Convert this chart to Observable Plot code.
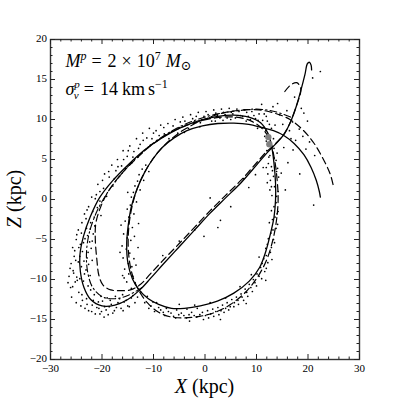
<!DOCTYPE html>
<html><head><meta charset="utf-8">
<script src="https://cdn.jsdelivr.net/npm/d3@7"></script>
<script src="https://cdn.jsdelivr.net/npm/@observablehq/plot@0.6"></script>
<style>body{margin:0;background:#fff}</style>
</head><body><div id="chart"></div>
<script>
// ---- data (X, Z in kpc) ----
const solidOrbit = [[20.7,16.2],[20.6,16.8],[20.3,17.15],[19.9,17.0],[19.4,15.6],[18.6,13.6],[17.7,11.6],[16.6,9.7],[15.3,8.1],[13.5,6.8],[12,5.8],[10,4.3],[7,2.1],[4,0.2],[1,-1.7],[-2,-3.8],[-5,-5.9],[-8,-8.0],[-10.5,-9.8],[-12.5,-11.2],[-15,-12.5],[-17.5,-13.2],[-20,-13.3],[-22.2,-12.5],[-23.5,-11],[-24.2,-9],[-24.3,-7],[-23.6,-4.6],[-22.3,-2.2],[-20.5,0.2],[-18,2.3],[-14.5,4.6],[-11.5,6.3],[-8.6,7.6],[-5,8.9],[-1,9.9],[2.5,10.4],[5.6,10.55],[8.5,10.3],[10.8,9.6],[12.2,8.3],[12.9,6.8],[13.4,4.5],[13.7,2],[13.7,0],[13.4,-2.2],[12.7,-4.3],[11.8,-6.5],[10.6,-8.5],[8.6,-10.2],[5.6,-11.7],[2.4,-12.7],[-0.9,-13.3],[-4,-13.6],[-6.5,-13.6],[-9,-13.1],[-11,-12.4],[-12.8,-11.3],[-14.1,-9.9],[-15,-7.8],[-15.2,-5.5],[-14.9,-3.2],[-14.3,-0.9],[-13.2,1.3],[-11.8,3.3],[-10.2,5.0],[-8.3,6.5],[-6,7.7],[-3.5,8.6],[-0.5,9.2],[2.5,9.5],[5.6,9.55],[8.5,9.4],[11,9.0],[13.3,8.6],[15.3,8.0],[17.3,7.0],[19.2,5.6],[20.6,4.0],[21.6,2.4],[22.2,1.0],[22.4,0.3]];

const dashedOrbit = [[15.5,13.5],[16.6,14.3],[17.8,14.6],[18.5,14.1],[18.6,13.5],[17.7,11.6],[16.6,9.7],[15.3,8.15],[13.5,6.85],[11.9,5.95],[9.9,4.5],[6.9,2.35],[3.9,0.45],[1,-1.4],[-2,-3.45],[-5,-5.5],[-8,-7.5],[-10.6,-9.3],[-12.5,-10.6],[-14.5,-11.3],[-16.5,-11.4],[-18.3,-11.3],[-19.8,-10.7],[-20.6,-9.5],[-21,-7.5],[-21.3,-5],[-21.2,-3],[-20.3,-1],[-18.8,1],[-16.5,3],[-13.5,5],[-10,7],[-6,8.6],[-2,9.6],[2,10.2],[6,10.3],[9,9.8],[11.2,8.8],[12.6,7.4],[13.5,5],[14,2.5],[14.2,0],[13.9,-2.5],[13.2,-5],[12,-7.5],[10.3,-9.6],[8,-11.5],[5,-13.1],[2,-14.1],[-1,-14.6],[-4,-14.8],[-6.5,-14.7],[-9,-14.1],[-11.2,-12.9],[-13,-11.2],[-14.2,-9.2],[-14.8,-7],[-14.9,-4.5],[-14.5,-2],[-13.6,0.5],[-12.2,2.8],[-10.3,4.9],[-8,6.7],[-5.3,8.2],[-2.2,9.4],[1,10.3],[4,10.9],[7.5,11.2],[10.5,11.2],[13.5,10.8],[16.5,10],[19,8.7],[21.2,7],[23,5],[24.3,3.2],[25,1.5]];

const dashDotOrbit = [[-12.2,-11.0],[-15,-12.0],[-17.5,-12.4],[-19.8,-12.2],[-21.8,-11.0],[-22.8,-9],[-23.0,-6.5],[-22.4,-4],[-21,-1.5],[-19,0.8],[-16.2,3.2],[-13,5.4],[-9.5,7.3],[-5.5,8.9],[-1.5,10.0],[2.5,10.7],[6.5,11.1],[10,11.3],[13.5,11.0],[17,10.2]];

const streamParticles = [
[-22.6,-13.9],[-21.9,-13.2],[-21.3,-14.3],[-20.7,-12.8],[-20.1,-14.0],[-19.5,-13.4],[-18.8,-14.4],[-18.2,-13.1],[-17.6,-13.9],[-16.9,-12.9],[-16.3,-13.6],[-15.7,-12.8],[-15.0,-13.3],[-14.3,-12.3],[-13.6,-12.9],[-21.5,-11.9],[-20.2,-12.1],[-19.0,-12.3],[-17.4,-12.1],[-16.0,-11.9],[-19.6,-14.7],
[-25.9,-12.2],[-25.0,-12.9],[-24.1,-13.3],[-23.3,-13.6],[-26.1,-11.0],[-25.2,-10.3],[-24.5,-11.6],[-23.6,-10.2],[-22.7,-10.8],[-26.4,-9.6],[-25.6,-8.9],[-24.9,-9.7],[-24.0,-8.4],[-23.1,-8.8],[-22.3,-9.5],[-26.0,-8.0],[-25.4,-7.1],[-24.6,-7.8],[-23.8,-6.5],[-22.9,-7.3],[-22.1,-6.1],[-25.7,-6.0],[-25.0,-5.0],[-24.2,-5.6],[-23.3,-4.9],[-22.4,-5.3],[-21.7,-4.3],[-24.6,-3.8],[-23.9,-2.9],[-23.0,-3.6],[-22.2,-2.9],[-21.4,-3.3],[-23.4,-1.8],[-22.6,-0.9],[-21.8,-1.5],[-20.9,-1.0],[-20.2,-2.0],
[-22.0,0.3],[-21.1,0.6],[-20.4,-0.2],[-19.7,1.4],[-20.8,1.9],[-19.1,0.4],[-18.6,2.8],[-19.5,3.2],[-17.9,1.7],[-17.3,3.6],[-18.1,4.3],[-16.6,2.9],[-16.2,4.2],[-17.0,5.0],[-15.4,3.9],[-15.1,5.4],[-15.9,6.1],[-14.2,4.6],[-13.8,6.0],[-14.6,6.7],[-13.0,5.3],[-12.6,6.9],[-13.3,7.6],[-11.8,6.1],[-11.3,7.7],[-12.1,8.3],[-10.6,6.8],[-10.0,8.3],[-10.8,8.9],[-9.3,7.4],
[-8.6,9.3],[-7.9,8.2],[-7.2,9.5],[-6.5,8.5],[-5.8,10.0],[-5.0,9.0],[-4.3,10.3],[-3.6,9.3],[-2.8,10.6],[-2.1,9.7],[-1.3,10.9],[-0.6,10.0],[0.2,11.0],[0.9,10.2],[1.7,11.2],[2.4,10.5],[3.2,11.3],[3.9,10.6],[4.7,11.4],[5.4,10.7],[6.2,11.3],[6.9,10.5],[7.7,11.2],[8.4,10.4],[9.1,11.0],[9.8,10.1],[10.5,10.7],[11.2,9.9],[11.9,10.4],[12.5,9.4],[-4.0,8.4],[-1.0,9.1],[2.0,9.8],[5.0,10.0],[8.0,9.8],[-7.0,7.6],[10.2,8.9],[3.5,9.9],
[13.2,11.6],[14.5,10.6],[15.1,9.4],[15.9,11.1],[16.4,8.6],[17.0,9.7],[17.6,7.4],[18.3,8.8],[19.0,7.9],[19.6,6.3],[20.3,7.2],[21.3,5.5],[17.1,6.2],[15.3,6.5],[16.1,4.6],[14.8,3.3],[15.6,1.2],[14.2,-1.5],[21.1,-0.7],[20.9,15.2],[22.4,16.0],[18.7,11.4],[17.4,12.8],[19.9,9.8],[14.1,12.0],[11.0,11.9],[18.4,3.2],[19.2,10.8],[16.7,7.6],[13.6,9.3],
[11.8,8.6],[12.9,8.9],[11.9,7.3],[13.3,7.6],[12.0,6.1],[12.6,5.5],[13.4,6.4],[12.3,4.5],[13.1,3.6],[13.8,4.9],[12.7,2.4],[13.5,1.6],[14.3,2.8],[13.0,0.5],[13.8,-0.4],[14.2,1.0],[12.6,1.2],[14.0,5.8],[12.2,3.2],[13.9,3.5],
[12.9,-1.4],[13.6,-2.2],[14.1,-3.1],[12.5,-2.9],[13.2,-3.8],[12.3,-4.9],[13.5,-5.4],[11.8,-6.1],[12.7,-6.6],[11.4,-7.4],[12.2,-7.9],[10.8,-8.5],[11.6,-9.0],[10.1,-9.3],[11.0,-9.9],[9.4,-10.0],[10.0,-10.8],[8.6,-10.6],[9.2,-11.5],[7.8,-11.2],[8.3,-12.1],[7.0,-11.8],[7.5,-12.6],[6.1,-12.2],[6.5,-13.1],[5.2,-12.5],[5.6,-13.4],[4.3,-12.9],[4.6,-13.8],[3.4,-13.2],[3.7,-14.1],[2.5,-13.5],[2.7,-14.4],[1.5,-13.7],[1.7,-14.6],[0.5,-13.9],[0.7,-14.8],[-0.5,-14.1],[-0.3,-15.0],[-1.5,-13.6],[-1.6,-14.7],[-2.6,-14.1],[-3.5,-13.7],[-3.6,-14.8],[-4.6,-14.2],[-5.5,-13.8],[-5.7,-14.8],[-6.6,-14.2],[-7.5,-13.6],[-7.8,-14.5],[-8.6,-13.8],[-9.4,-12.9],[-9.8,-14.0],[-10.5,-13.3],[-11.2,-12.1],[-11.7,-12.9],[10.5,-7.2],[9.0,-9.4],[6.8,-10.9],[4.0,-12.3],[1.0,-12.9],[-2.0,-13.2],[-5.0,-13.1],[13.0,-7.5],[11.8,-10.1],[8.0,-13.0],[3.0,-15.0],[-3.0,-15.2],
[-12.4,-11.6],[-13.1,-12.2],[-13.6,-10.4],[-14.3,-11.1],[-14.8,-9.3],[-15.6,-8.7],[-14.2,-8.4],[-15.9,-7.3],[-14.6,-6.7],[-16.1,-5.8],[-14.4,-5.1],[-15.8,-4.3],[-15.5,-2.7],[-14.1,-3.5],[-15.1,-1.2],[-13.8,-1.8],[-14.3,0.3],[-13.3,-0.3],[-13.6,1.7],[-12.6,1.2],[-12.8,3.1],[-11.9,2.4],[-11.5,4.3],[-10.9,3.5],[-16.5,-6.6],[-16.3,-3.2],[-15.2,-10.3],[-13.0,-6.0],[-13.4,-8.2],[-12.9,-3.0],[-16.0,-9.5],[-15.0,0.9],
[5.0,-0.9],[3.0,-2.6],[2.5,-3.5],[-0.2,-4.6],[7.5,2.6],[9.8,3.1],[-2.0,-3.8],[8.5,1.5],[11.3,4.0],[-5.0,-5.2],[-8.2,-7.0],[1.0,0.2],
[-26.6,-10.4],[-25.7,-10.9],[-24.8,-10.1],[-23.9,-11.9],[-23.0,-12.4],[-22.2,-11.3],[-21.7,-12.6],[-25.5,-9.2],[-24.3,-9.9],[-23.4,-9.3],[-22.6,-8.1],[-26.2,-8.6],[-25.1,-7.6],[-24.3,-7.1],[-23.5,-7.7],[-22.7,-6.6],[-21.9,-7.6],[-25.3,-6.4],[-24.5,-6.0],[-23.6,-5.4],[-22.8,-4.5],[-21.9,-5.2],[-24.9,-4.4],[-24.0,-4.2],[-23.1,-2.4],[-22.3,-3.7],[-21.5,-2.2],[-22.9,-1.3],[-21.3,0.1],[-20.4,1.0],[-19.9,2.4],[-18.7,3.5],[-17.6,2.6],[-16.9,4.1],[-15.8,5.0],[-14.9,6.1],[-14.0,5.3],[-12.9,6.4],[-12.0,7.4],[-11.1,6.5],[-10.3,7.6],[-9.5,8.6],[-8.9,8.0],[-8.0,9.0],
[-23.8,-12.6],[-22.9,-13.1],[-22.0,-14.0],[-21.0,-13.5],[-20.4,-14.3],[-19.9,-12.7],[-19.2,-13.8],[-18.4,-12.6],[-17.9,-14.2],[-17.2,-13.5],[-16.6,-12.4],[-15.9,-13.9],[-15.3,-12.6],[-14.7,-13.4],[-14.0,-12.0],[-18.6,-13.4],[-20.6,-13.6],
[-6.2,9.2],[-5.3,8.3],[-4.8,9.7],[-3.9,9.8],[-3.2,8.9],[-2.4,10.1],[-1.7,10.4],[-0.9,9.6],[-0.2,10.4],[0.6,10.6],[1.3,9.8],[2.1,10.8],[2.9,10.2],[3.6,10.9],[4.3,10.2],[5.1,10.9],[5.9,10.2],[6.6,11.0],[7.3,10.4],[8.1,10.9],[8.8,10.0],[9.5,10.5],[10.3,9.9],[11.5,10.7],[12.1,9.8],
[13.4,5.2],[12.9,4.1],[14.1,3.9],[13.3,2.9],[12.9,1.6],[13.9,0.4],[13.4,-0.9],[14.0,-1.8],[13.1,-2.5],[13.8,-3.6],[12.8,-4.2],[13.3,-5.0],[12.1,-5.6],[12.9,-6.0],[11.9,-7.0],[11.1,-8.0],[11.9,-8.6],[10.5,-9.6],[9.7,-10.4],[8.9,-11.0],[8.1,-11.6],[7.2,-12.2],[6.4,-12.6],[5.7,-12.9],[4.9,-13.4],[4.0,-13.6],[3.1,-13.9],[2.1,-14.0],[1.1,-14.3],[0.1,-14.5],[-1.0,-14.4],[-2.1,-14.5],[-3.1,-14.4],[-4.1,-14.5],[-5.1,-14.4],[-6.1,-14.6],[-7.1,-14.0],[-8.1,-14.1],[-9.0,-13.5],[-10.1,-12.8],[-10.9,-13.6],
[-14.9,-8.0],[-15.3,-6.2],[-15.1,-4.8],[-14.8,-2.2],[-14.5,-0.7],[-13.9,0.9],[-13.1,2.3],[-12.2,3.8],[-15.7,-9.8],[-14.0,-9.6],[-13.8,-7.4],[-13.7,-4.6],
[11.6,7.9],[12.0,8.1],[12.4,5.3],[11.9,4.0],[12.1,2.1]
];

const progenitorX = [12.3, 12.5];
const progenitorZ = [7.8, 6.9];

const xMajor = [-30,-20,-10,0,10,20,30];
const xMinor = [-28,-26,-24,-22,-18,-16,-14,-12,-8,-6,-4,-2,2,4,6,8,12,14,16,18,22,24,26,28];
const yMajor = [-20,-15,-10,-5,0,5,10,15,20];
const yMinor = [-19,-18,-17,-16,-14,-13,-12,-11,-9,-8,-7,-6,-4,-3,-2,-1,1,2,3,4,6,7,8,9,11,12,13,14,16,17,18,19];

const progenitor = progenitorX.map((x, i) => ({x, z: progenitorZ[i]}));

const W = 399, H = 399, mL = 50, mR = 40, mT = 39, mB = 40;
const iw = W - mL - mR, ih = H - mT - mB;
const ink = "#222";
const serif = "Liberation Serif, DejaVu Serif, serif";

const chart = Plot.plot({
  width: W, height: H,
  marginLeft: mL, marginRight: mR, marginTop: mT, marginBottom: mB,
  style: {fontFamily: serif, fontSize: "11px", background: "#fff", color: "#000"},
  x: {domain: [-30, 30]},
  y: {domain: [-20, 20]},
  marks: [
    Plot.dot(streamParticles, {x: d => d[0], y: d => d[1], r: 0.85, fill: "#000", stroke: "none"}),
    Plot.line(dashedOrbit, {x: d => d[0], y: d => d[1], stroke: "#000", strokeWidth: 1.2, strokeDasharray: "7,4", curve: "catmull-rom"}),
    Plot.line(dashDotOrbit, {x: d => d[0], y: d => d[1], stroke: "#000", strokeWidth: 1.1, strokeDasharray: "7,3,1.5,3", curve: "catmull-rom"}),
    Plot.line(solidOrbit, {x: d => d[0], y: d => d[1], stroke: "#000", strokeWidth: 1.3, curve: "catmull-rom"}),
    Plot.dot(progenitor, {x: "x", y: "z", r: 3.2, fill: "#7f7f7f", stroke: "none"}),
    Plot.frame({stroke: "#333", strokeWidth: 1.4}),
    Plot.tickX(xMajor, {x: d => d, insetTop: ih - 5, stroke: ink, strokeWidth: 1}),
    Plot.tickX(xMajor, {x: d => d, insetBottom: ih - 5, stroke: ink, strokeWidth: 1}),
    Plot.tickX(xMinor, {x: d => d, insetTop: ih - 2.5, stroke: ink, strokeWidth: 1}),
    Plot.tickX(xMinor, {x: d => d, insetBottom: ih - 2.5, stroke: ink, strokeWidth: 1}),
    Plot.tickY(yMajor, {y: d => d, insetRight: iw - 5, stroke: ink, strokeWidth: 1}),
    Plot.tickY(yMajor, {y: d => d, insetLeft: iw - 5, stroke: ink, strokeWidth: 1}),
    Plot.tickY(yMinor, {y: d => d, insetRight: iw - 2.5, stroke: ink, strokeWidth: 1}),
    Plot.tickY(yMinor, {y: d => d, insetLeft: iw - 2.5, stroke: ink, strokeWidth: 1}),
    Plot.axisX(xMajor, {tickSize: 0, tickPadding: 4.5, label: null, fontSize: 11}),
    Plot.axisY(yMajor, {tickSize: 0, tickPadding: 3.5, label: null, fontSize: 11, dy: -1})
  ]
});

const svg = d3.select(chart);
const sx = chart.scale("x"), sy = chart.scale("y");

// axis titles
const xt = svg.append("text").attr("x", (sx.apply(-30) + sx.apply(30)) / 2).attr("y", 393)
  .attr("text-anchor", "middle").attr("font-family", serif).attr("font-size", 20).attr("fill", "#000");
xt.append("tspan").attr("font-style", "italic").text("X");
xt.append("tspan").text(" (kpc)");

const yt = svg.append("text").attr("transform", `translate(21,${(sy.apply(20) + sy.apply(-20)) / 2}) rotate(-90)`)
  .attr("text-anchor", "middle").attr("font-family", serif).attr("font-size", 20).attr("fill", "#000");
yt.append("tspan").attr("font-style", "italic").text("Z");
yt.append("tspan").text(" (kpc)");

// annotation
const ax = sx.apply(-27);
const l1 = svg.append("text").attr("x", ax).attr("y", sy.apply(16.45)).attr("text-anchor", "start")
  .attr("font-family", serif).attr("font-size", 18).attr("fill", "#000");
l1.append("tspan").attr("font-style", "italic").text("M");
l1.append("tspan").attr("font-style", "italic").attr("font-size", 12).attr("dy", -7).text("p");
l1.append("tspan").attr("dy", 7).attr("dx", 5).text("=");
l1.append("tspan").attr("dx", 6).text("2");
l1.append("tspan").attr("dx", 5).text("×");
l1.append("tspan").attr("dx", 5).text("10");
l1.append("tspan").attr("font-size", 12).attr("dy", -7).text("7");
l1.append("tspan").attr("dy", 7).attr("dx", 5).attr("font-style", "italic").text("M");
l1.append("tspan").attr("font-size", 13).attr("dy", 3).text("⊙");

const l2 = svg.append("text").attr("x", ax).attr("y", sy.apply(13.05)).attr("text-anchor", "start")
  .attr("font-family", serif).attr("font-size", 18).attr("fill", "#000");
l2.append("tspan").attr("font-style", "italic").text("σ");
l2.append("tspan").attr("font-style", "italic").attr("font-size", 11).attr("dy", -7).text("p");
l2.append("tspan").attr("font-style", "italic").attr("font-size", 11).attr("dy", 11).attr("dx", -6).text("v");
l2.append("tspan").attr("dy", -4).attr("dx", 5).text("=");
l2.append("tspan").attr("dx", 6).text("14");
l2.append("tspan").attr("dx", 4).text("km");
l2.append("tspan").attr("dx", 3).text("s");
l2.append("tspan").attr("font-size", 12).attr("dy", -7).text("−1");

document.getElementById("chart").appendChild(chart);
</script>
</body></html>
